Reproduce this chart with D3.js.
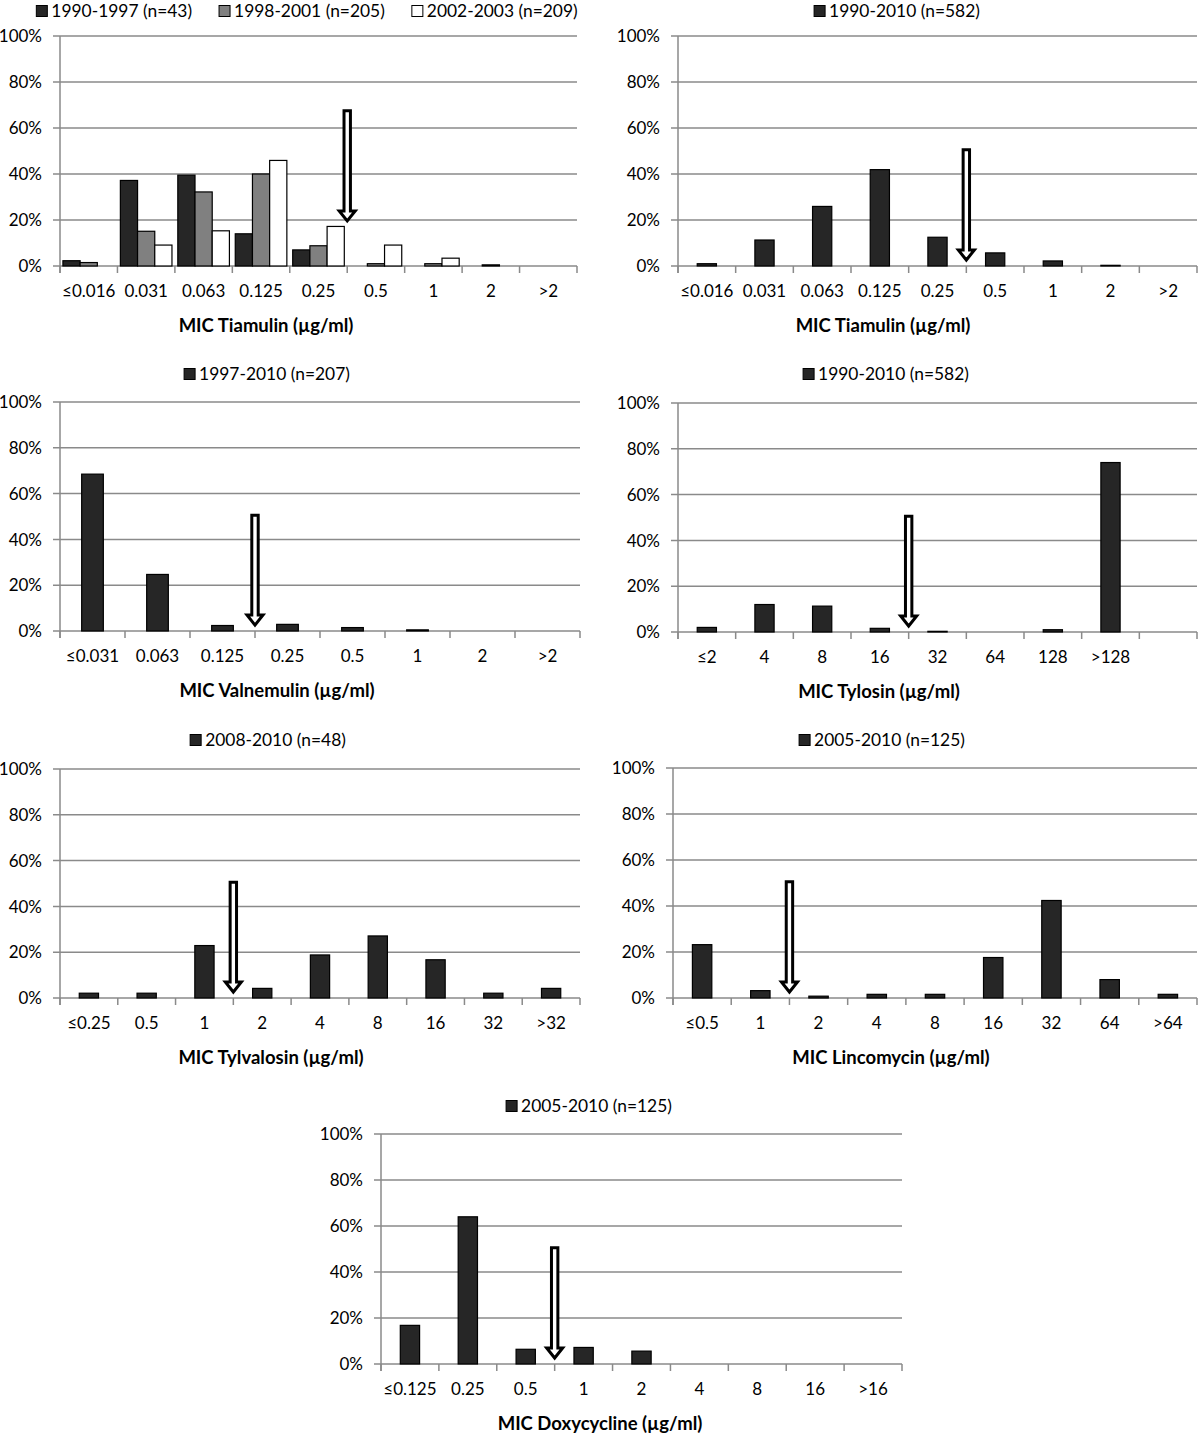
<!DOCTYPE html>
<html>
<head>
<meta charset="utf-8">
<script src="https://cdn.jsdelivr.net/npm/d3@7"></script>
<style>
	body { margin: 0; background: #fff; }
	text { font-family: Lato, "Open Sans", sans-serif; fill: #000; }
	.tick-label { font-size: 17px; }
	.legend-label { font-size: 17.4px; }
	.axis-title { font-size: 18.5px; font-weight: bold; }
</style>
</head>
<body>
<div id="chart-area"></div>
<script>

// MIC categories
let tiamulinCats = ["≤0.016", "0.031", "0.063", "0.125", "0.25", "0.5", "1", "2", ">2"];
let valnemulinCats = ["≤0.031", "0.063", "0.125", "0.25", "0.5", "1", "2", ">2"];
let tylosinCats = ["≤2", "4", "8", "16", "32", "64", "128", ">128", ""];
let tylvalosinCats = ["≤0.25", "0.5", "1", "2", "4", "8", "16", "32", ">32"];
let lincomycinCats = ["≤0.5", "1", "2", "4", "8", "16", "32", "64", ">64"];
let doxycyclineCats = ["≤0.125", "0.25", "0.5", "1", "2", "4", "8", "16", ">16"];

// % of isolates per MIC
let tiamulin1990 = [2.3, 37.2, 39.5, 14.0, 7.0, 0, 0, 0, 0];
let tiamulin1998 = [1.5, 15.1, 32.2, 40.0, 8.8, 1.0, 1.0, 0.5, 0];
let tiamulin2002 = [0, 9.1, 15.3, 45.9, 17.2, 9.1, 3.4, 0, 0];
let tiamulinAll = [1.0, 11.3, 25.9, 41.9, 12.5, 5.7, 2.2, 0.3, 0];
let valnemulinAll = [68.5, 24.7, 2.4, 2.9, 1.5, 0.5, 0, 0];
let tylosinAll = [2.0, 12.0, 11.3, 1.6, 0.3, 0, 1.0, 74.0, 0];
let tylvalosinAll = [2.1, 2.1, 22.9, 4.2, 18.8, 27.1, 16.7, 2.1, 4.2];
let lincomycinAll = [23.2, 3.2, 0.8, 1.6, 1.6, 17.6, 42.4, 8.0, 1.6];
let doxycyclineAll = [16.8, 64.0, 6.4, 7.2, 5.6, 0, 0, 0, 0];

// legend names
let tiamulinNames = ["1990-1997 (n=43)", "1998-2001 (n=205)", "2002-2003 (n=209)"];

// breakpoint arrows: category index of the cut, top and tip in %
let arrowCut = [5, 5, 3, 4, 3, 2, 3];
let arrowTop = [67.5, 50.5, 50.5, 50.5, 50.5, 50.5, 50.5];
let arrowTip = [19.6, 2.6, 2.6, 2.6, 2.6, 2.6, 2.6];

let yTicks = [0, 20, 40, 60, 80, 100];

let fills = ["#262626", "#808080", "#ffffff"];

let panels = [
	{cats: tiamulinCats, series: [tiamulin1990, tiamulin1998, tiamulin2002], names: tiamulinNames, title: "MIC Tiamulin (µg/ml)"},
	{cats: tiamulinCats, series: [tiamulinAll], names: ["1990-2010 (n=582)"], title: "MIC Tiamulin (µg/ml)"},
	{cats: valnemulinCats, series: [valnemulinAll], names: ["1997-2010 (n=207)"], title: "MIC Valnemulin (µg/ml)"},
	{cats: tylosinCats, series: [tylosinAll], names: ["1990-2010 (n=582)"], title: "MIC Tylosin (µg/ml)"},
	{cats: tylvalosinCats, series: [tylvalosinAll], names: ["2008-2010 (n=48)"], title: "MIC Tylvalosin (µg/ml)"},
	{cats: lincomycinCats, series: [lincomycinAll], names: ["2005-2010 (n=125)"], title: "MIC Lincomycin (µg/ml)"},
	{cats: doxycyclineCats, series: [doxycyclineAll], names: ["2005-2010 (n=125)"], title: "MIC Doxycycline (µg/ml)"}
];

// where each panel sits on the page
let layout = [
	{x0: 60, x1: 577, top: 36, bottom: 266, legendX: 307, legendY: 11, titleX: 266},
	{x0: 678, x1: 1197, top: 36, bottom: 266, legendX: 897, legendY: 11, titleX: 883},
	{x0: 60, x1: 580, top: 402, bottom: 631, legendX: 267, legendY: 374, titleX: 277},
	{x0: 678, x1: 1197, top: 403, bottom: 632, legendX: 886, legendY: 374, titleX: 879},
	{x0: 60, x1: 580, top: 769, bottom: 998, legendX: 268, legendY: 740, titleX: 271},
	{x0: 673, x1: 1197, top: 768, bottom: 998, legendX: 882, legendY: 740, titleX: 891},
	{x0: 381, x1: 902, top: 1134, bottom: 1364, legendX: 589, legendY: 1106, titleX: 600}
];

let gridColor = "#8a8a8a";

let svg = d3.select("#chart-area").append("svg")
	.attr("width", 1200)
	.attr("height", 1434);

panels.forEach((p, i) => drawPanel(p, layout[i], i));

function drawPanel(p, l, i) {
	let g = svg.append("g");

	let x = d3.scaleBand()
		.domain(p.cats)
		.range([l.x0, l.x1])
		.padding(0);

	let y = d3.scaleLinear()
		.domain([0, 100])
		.range([l.bottom, l.top]);

	// gridlines + y ticks
	g.selectAll(".grid")
		.data(yTicks)
		.enter()
		.append("line")
		.attr("x1", l.x0 - 7)
		.attr("x2", l.x1)
		.attr("y1", d => y(d))
		.attr("y2", d => y(d))
		.style("stroke", gridColor)
		.style("stroke-width", 1.5);

	g.selectAll(".y-label")
		.data(yTicks)
		.enter()
		.append("text")
		.classed("tick-label", true)
		.attr("x", l.x0 - 18)
		.attr("y", d => y(d))
		.attr("dy", "0.36em")
		.attr("text-anchor", "end")
		.text(d => d + "%");

	// y axis line
	g.append("line")
		.attr("x1", l.x0).attr("x2", l.x0)
		.attr("y1", l.top).attr("y2", l.bottom + 7)
		.style("stroke", gridColor)
		.style("stroke-width", 1.5);

	// category boundary ticks
	let bounds = d3.range(p.cats.length + 1).map(k => l.x0 + k * x.step());
	g.selectAll(".x-tick")
		.data(bounds)
		.enter()
		.append("line")
		.attr("x1", d => d).attr("x2", d => d)
		.attr("y1", l.bottom).attr("y2", l.bottom + 7)
		.style("stroke", gridColor)
		.style("stroke-width", 1.5);

	g.selectAll(".x-label")
		.data(p.cats)
		.enter()
		.append("text")
		.classed("tick-label", true)
		.attr("x", d => x(d) + x.bandwidth() / 2)
		.attr("y", l.bottom + 31)
		.attr("text-anchor", "middle")
		.text(d => d);

	// bars
	let n = p.series.length;
	let gap = n == 1 ? 2 : 0.34;
	let w = x.bandwidth() / (n + gap);
	let off = (x.bandwidth() - n * w) / 2;
	let xSub = d3.scaleBand()
		.domain(d3.range(n))
		.range([off, off + n * w]);

	p.series.forEach((vals, s) => {
		let rows = p.cats.map((c, k) => ({cat: c, v: vals[k]})).filter(d => d.v > 0);
		g.selectAll(".bar-" + s)
			.data(rows)
			.enter()
			.append("rect")
			.attr("x", d => x(d.cat) + xSub(s))
			.attr("y", d => y(d.v))
			.attr("width", xSub.bandwidth())
			.attr("height", d => l.bottom - y(d.v))
			.style("fill", fills[s])
			.style("stroke", "#000")
			.style("stroke-width", 1.2);
	});

	// breakpoint arrow
	let ax = x(p.cats[arrowCut[i]]);
	let yTop = y(arrowTop[i]);
	let yTip = y(arrowTip[i]);
	let sw = 3.2, hw = 8, hh = 10;
	let pts = [
		[ax - sw, yTop], [ax + sw, yTop], [ax + sw, yTip - hh], [ax + hw, yTip - hh],
		[ax, yTip], [ax - hw, yTip - hh], [ax - sw, yTip - hh]
	];
	g.append("path")
		.attr("d", d3.line()(pts) + "Z")
		.style("fill", "#fff")
		.style("stroke", "#000")
		.style("stroke-width", 3);

	// legend
	let leg = g.append("g");
	let items = leg.selectAll(".legend-item")
		.data(p.names)
		.enter()
		.append("g");
	items.append("rect")
		.attr("width", 11)
		.attr("height", 11)
		.attr("y", l.legendY - 5.5)
		.style("fill", (d, k) => fills[k])
		.style("stroke", "#000")
		.style("stroke-width", 1);
	items.append("text")
		.classed("legend-label", true)
		.attr("x", 15)
		.attr("y", l.legendY)
		.attr("dy", "0.36em")
		.text(d => d);
	let cursor = 0;
	items.each(function () {
		d3.select(this).attr("transform", "translate(" + cursor + ",0)");
		cursor += 15 + d3.select(this).select("text").node().getComputedTextLength() + 27;
	});
	let legW = cursor - 27;
	leg.attr("transform", "translate(" + (l.legendX - legW / 2) + ",0)");

	// axis title
	g.append("text")
		.classed("axis-title", true)
		.attr("x", l.titleX)
		.attr("y", l.bottom + 65.5)
		.attr("text-anchor", "middle")
		.text(p.title);
}

</script>
</body>
</html>
